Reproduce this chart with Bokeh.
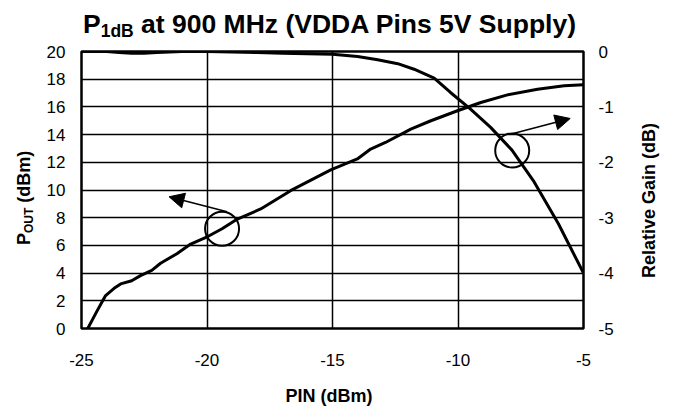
import numpy as np
from bokeh.plotting import figure
from bokeh.layouts import column, row
from bokeh.models import Range1d, LinearAxis, FixedTicker, Arrow, NormalHead, Div
from bokeh.embed import file_html
from bokeh.resources import INLINE

# ---------------- data ----------------
pin_pout = [-24.75, -24.4, -24.04, -23.7, -23.44, -23.0, -22.65, -22.2, -21.85, -21.2,
            -20.65, -19.95, -19.4, -18.79, -17.86, -16.67, -15.07, -14.01, -13.48, -12.89,
            -11.88, -11.08, -10.02, -9.09, -8.03, -6.83, -5.77, -5.0]
pout = [0.0, 1.2, 2.38, 2.9, 3.22, 3.45, 3.82, 4.2, 4.71, 5.4,
        6.1, 6.66, 7.2, 7.9, 8.63, 9.95, 11.45, 12.24, 12.96, 13.43,
        14.4, 15.0, 15.72, 16.32, 16.87, 17.28, 17.52, 17.6]

pin_gain = [-25, -24, -23.5, -23, -22.5, -22, -21.5, -21, -20, -19, -18, -17, -16, -15,
            -14, -13.2, -12.4, -11.75, -10.95, -10.3, -9.5, -8.7, -7.85, -7.0, -6.0, -5.0]
rel_gain = [0.0, 0.0, -0.02, -0.03, -0.03, -0.02, -0.01, 0.0, 0.0, -0.01, -0.02, -0.03, -0.04, -0.05,
            -0.09, -0.15, -0.22, -0.32, -0.48, -0.74, -1.04, -1.37, -1.78, -2.33, -3.11, -4.0]

x_ticks = [-25, -20, -15, -10, -5]
pout_ticks = [0, 2, 4, 6, 8, 10, 12, 14, 16, 18, 20]
gain_ticks = [-5, -4, -3, -2, -1, 0]
callout_pin = [-19.4, -7.84]   # where the two callout circles sit

# ---------------- layout constants ----------------
FONT = "Liberation Sans"
TITLE_H, BOTTOM_H = 43, 32
LEFT_W, RIGHT_W = 40, 40
FIG_W, FIG_H = 676 - LEFT_W - RIGHT_W, 406 - TITLE_H - BOTTOM_H
FRAME_L, FRAME_T, FRAME_W, FRAME_H = 81, 51, 502, 277   # page px

p = figure(width=FIG_W, height=FIG_H, output_backend="svg", toolbar_location=None,
           x_range=Range1d(-25, -5), y_range=Range1d(0, 20),
           min_border_left=FRAME_L - LEFT_W,
           min_border_right=FIG_W - (FRAME_L - LEFT_W) - FRAME_W,
           min_border_top=FRAME_T - TITLE_H,
           min_border_bottom=FIG_H - (FRAME_T - TITLE_H) - FRAME_H, title=None)
p.extra_y_ranges = {"gain": Range1d(-5, 0)}
p.background_fill_color = "white"
p.border_fill_color = "white"
p.outline_line_color = "black"
p.outline_line_width = 2.5
p.outline_line_alpha = 1.0

p.xgrid.ticker = FixedTicker(ticks=x_ticks)
p.ygrid.ticker = FixedTicker(ticks=pout_ticks)
for g in (p.xgrid, p.ygrid):
    g.grid_line_color = "black"
    g.grid_line_width = 1.5
    g.grid_line_alpha = 1.0

p.xaxis.ticker = FixedTicker(ticks=x_ticks)
p.yaxis.ticker = FixedTicker(ticks=pout_ticks)
raxis = LinearAxis(y_range_name="gain", ticker=FixedTicker(ticks=gain_ticks))
p.add_layout(raxis, "right")

for ax, ticks in ((p.xaxis[0], x_ticks), (p.yaxis[0], pout_ticks), (raxis, gain_ticks)):
    ax.axis_line_color = None
    ax.major_tick_line_color = None
    ax.minor_tick_line_color = None
    ax.major_tick_out = 0
    ax.major_tick_in = 0
    ax.major_label_text_font = FONT
    ax.major_label_text_font_size = "17px"
    ax.major_label_text_color = "black"
    ax.major_label_overrides = {t: str(t) for t in ticks}
p.xaxis.major_label_standoff = 25
p.yaxis.major_label_standoff = 16
raxis.major_label_standoff = 15

# ---------------- curves ----------------
p.line(pin_pout, pout, line_width=3, line_color="black", line_join="round")
p.line(pin_gain, rel_gain, y_range_name="gain", line_width=3, line_color="black", line_join="round")

# ---------------- callouts ----------------
PX_X = FRAME_W / 20.0      # px per dBm (x)
PX_Y = FRAME_H / 20.0      # px per dBm (left y)
PX_G = FRAME_H / 5.0       # px per dB (right y)

yl = float(np.interp(callout_pin[0], pin_pout, pout))
yr = float(np.interp(callout_pin[1], pin_gain, rel_gain))
p.scatter([callout_pin[0]], [yl], marker="circle", size=34, fill_color=None,
          line_color="black", line_width=2)
p.scatter([callout_pin[1]], [yr], marker="circle", size=34, fill_color=None,
          line_color="black", line_width=2, y_range_name="gain")

p.add_layout(Arrow(x_start=callout_pin[0] + 5 / PX_X, y_start=yl + 17 / PX_Y,
                   x_end=callout_pin[0] - 53 / PX_X, y_end=yl + 32 / PX_Y,
                   line_width=1.5, line_color="black",
                   end=NormalHead(size=15, fill_color="black", line_color="black")))
p.add_layout(Arrow(x_start=callout_pin[1] + 1 / PX_X, y_start=yr + 17 / PX_G,
                   x_end=callout_pin[1] + 58 / PX_X, y_end=yr + 32 / PX_G,
                   line_width=1.5, line_color="black", y_range_name="gain",
                   end=NormalHead(size=15, fill_color="black", line_color="black")))

# ---------------- title and axis titles (HTML, so subscripts are real text) ----------------
BASE = f"font-family:'{FONT}'; font-weight:bold; color:black; white-space:nowrap; margin:0; padding:0;"

title_div = Div(width=676, height=TITLE_H, margin=0, text=(
    f'<div style="{BASE} font-size:26.5px; line-height:26px; '
    'transform: translate(83px, 11.3px);">'
    'P<span style="font-size:17.5px; position:relative; top:3.5px;">1dB</span>'
    ' at 900 MHz (VDDA Pins 5V Supply)</div>'))

# reads bottom-to-top; baseline at page x=30.5, starts at page y=245
left_div = Div(width=LEFT_W, height=FIG_H, margin=0, text=(
    f'<div style="{BASE} font-size:18px; line-height:18px; width:200px; '
    f'transform-origin: 0 0; transform: translate(15.3px, {245 - TITLE_H}px) rotate(-90deg);">'
    'P<span style="font-size:12px; position:relative; top:3px;">OUT</span> (dBm)</div>'))

# baseline at page x=655, centred on page y=200.5
right_div = Div(width=RIGHT_W, height=FIG_H, margin=0, text=(
    f'<div style="{BASE} font-size:18px; line-height:18px; width:200px; '
    f'transform-origin: 0 0; transform: translate({655 - (676 - RIGHT_W) - 15.24:.2f}px, '
    f'{200.5 + 77.5 - TITLE_H}px) rotate(-90deg);">Relative Gain (dB)</div>'))

# x axis title: centred at page x=329, baseline at page y=402.5
bottom_div = Div(width=676, height=BOTTOM_H, margin=0, text=(
    f'<div style="{BASE} font-size:18px; line-height:18px; width:676px; text-align:center; '
    f'transform: translate({329 - 338}px, {402.5 - (406 - BOTTOM_H) - 15.24:.2f}px);">'
    'PIN (dBm)</div>'))

layout = column(title_div, row(left_div, p, right_div, spacing=0), bottom_div, spacing=0)

open("out.html", "w").write(file_html(layout, INLINE))
